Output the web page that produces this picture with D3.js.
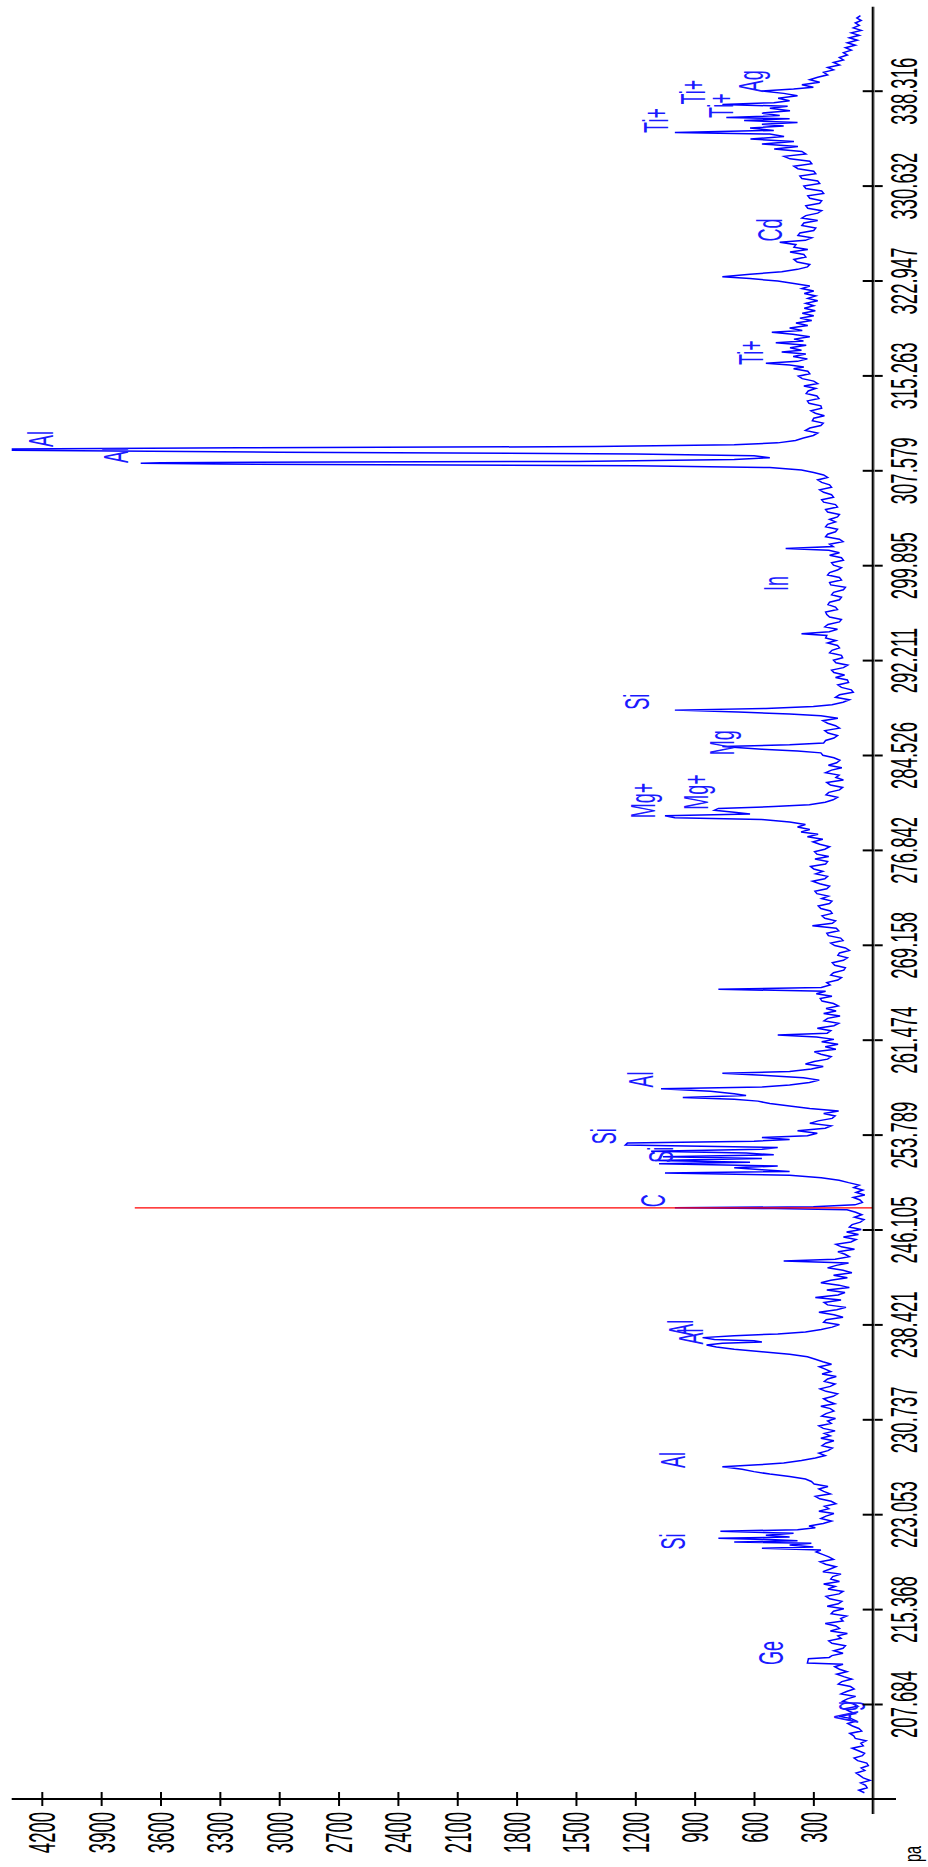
<!DOCTYPE html>
<html>
<head>
<meta charset="utf-8">
<script src="https://cdn.jsdelivr.net/npm/d3@7"></script>
<style>
  body { margin: 0; background: #fff; }
  text { font-family: "Liberation Sans", Arial, sans-serif; }
</style>
</head>
<body>
<div id="chart"></div>
<script>
// tick values of both axes
const wlTicks = [207.684, 215.368, 223.053, 230.737, 238.421, 246.105, 253.789, 261.474, 269.158,
    276.842, 284.526, 292.211, 299.895, 307.579, 315.263, 322.947, 330.632, 338.316];
const intTicks = [300, 600, 900, 1200, 1500, 1800, 2100, 2400, 2700, 3000, 3300, 3600, 3900, 4200];

// spectrum, [wavelength nm, intensity]
const spectrumA = [
    [200.5,42],[200.7,70],[200.9,28],[201.1,36],[201.3,61],[201.5,14],[201.7,48],[201.9,66],[202.1,84],[202.3,40],
    [202.5,58],[202.7,22],[202.9,30],[203.1,76],[203.3,94],[203.5,52],[203.7,41],[203.9,72],[204.1,104],[204.3,48],
    [204.5,60],[204.7,34],[204.9,88],[205.1,96],[205.3,116],[205.5,56],[205.7,70],[205.9,102],[206.1,126],[206.3,82],
    [206.5,108],[206.7,170],[206.9,90],[207.1,118],[207.3,142],[207.5,76],[207.7,100],[207.9,152],[208.1,128],[208.3,86],
    [208.5,160],[208.7,132],[208.9,94],[209.1,112],[209.3,174],[209.5,156],[209.7,106],[209.9,146],[210.1,182],[210.3,130],
    [210.5,168],[210.7,192],[210.9,150],[211.0,330],[211.35,325],[211.45,220],[211.6,206],[211.8,150],[212.0,196],[212.2,150],
    [212.4,138],[212.6,206],[212.8,222],[213.0,160],[213.2,176],[213.4,128],[213.6,214],[213.8,168],[214.0,186],[214.2,240],
    [214.4,150],[214.6,162],[214.8,132],[215.0,210],[215.2,198],[215.4,146],[215.6,230],[215.8,174],[216.0,156],[216.2,218],
    [216.4,236],[216.6,170],[216.8,150],[217.0,226],[217.2,190],[217.4,248],[217.6,168],[217.8,212],[218.0,202],[218.2,160],
    [218.4,252],[218.6,218],[218.8,186],[219.0,238],[219.2,266],[219.4,198],[219.6,222],[219.8,254],[220.0,286],[220.15,262],
    [220.3,560],[220.4,300],[220.55,420],[220.7,310],[220.8,700],[220.9,380],[221.0,520],[221.1,780],[221.2,420],[221.35,540],
    [221.5,400],[221.67,770],[221.8,380],[221.95,290],[222.1,322],[222.3,250],[222.5,208],[222.7,262],[222.9,236],[223.1,196],
    [223.3,272],[223.5,222],[223.7,244],[223.9,186],[224.1,210],[224.3,268],[224.5,290],[224.7,214],[224.9,248],[225.1,272],
    [225.3,226],[225.5,296],[225.7,310],[225.9,340],[226.1,420],[226.3,520],[226.5,600],[226.7,660],[226.9,760],[227.05,580],
    [227.2,450],[227.4,360],[227.6,290],[227.8,240],[228.0,272],[228.2,226],[228.4,204],[228.6,256],[228.8,238],[229.0,196],
    [229.2,262],[229.4,214],[229.6,244],[229.8,190]
];
const spectrumB = [
    [230.0,250],[230.2,272],[230.4,210],[230.6,228],[230.8,188],[231.0,258],[231.2,236],[231.4,196],[231.6,214],[231.8,262],
    [232.0,192],[232.2,226],[232.4,248],[232.6,200],[232.8,178],[233.0,236],[233.2,266],[233.4,214],[233.6,190],[233.8,244],
    [234.0,228],[234.2,184],[234.4,256],[234.6,212],[234.8,240],[235.0,270],[235.2,208],[235.4,252],[235.6,290],[235.8,330],
    [236.0,420],[236.2,560],[236.4,700],[236.6,790],[236.75,840],[236.9,760],[237.0,560],[237.1,600],[237.2,800],[237.35,860],
    [237.5,700],[237.65,480],[237.8,340],[238.0,260],[238.2,205],[238.4,168],[238.6,248],[238.8,235],[239.0,150],[239.2,196],
    [239.4,272],[239.6,182],[239.8,135],[240.0,228],[240.2,246],[240.4,160],[240.6,290],[240.8,175],[241.0,140],[241.2,232],
    [241.4,118],[241.6,170],[241.8,262],[242.0,212],[242.2,128],[242.4,198],[242.6,105],[242.8,150],[243.0,228],[243.2,184],
    [243.4,122],[243.55,450],[243.7,190],[243.9,118],[244.1,140],[244.3,176],[244.5,92],[244.7,158],[244.9,186],[245.1,110],
    [245.3,84],[245.5,148],[245.7,72],[245.9,132],[246.1,58],[246.3,118],[246.5,104],[246.7,62],[246.9,44],[247.1,92],
    [247.3,55],[247.5,86],[247.7,130],[247.8,500],[247.86,1000],[247.95,300],[248.1,90],[248.3,52],[248.5,64],[248.7,98],
    [248.9,40],[249.1,84],[249.3,50],[249.5,96],[249.7,68],[249.9,122],[250.1,170],[250.3,260],[250.5,420],[250.69,1050],
    [250.8,420],[250.95,560],[251.1,700],[251.25,480],[251.43,1080],[251.55,620],[251.7,1100],[251.85,560],[252.0,1060],[252.15,500],
    [252.3,640],[252.45,1120],[252.6,560],[252.75,480],[252.95,1250],[253.1,1240],[253.25,600],[253.4,420],[253.55,560],[253.7,330],
    [253.9,280],[254.1,380],[254.3,240],[254.5,210],[254.7,318],[254.9,276],[255.1,205],[255.3,190],[255.5,248],[255.7,172],
    [255.9,318],[256.1,420],[256.3,520],[256.5,580],[256.65,700],[256.8,960],[256.95,640],[257.1,700],[257.3,820],[257.5,1070],
    [257.65,560],[257.8,420],[258.0,320],[258.2,270],[258.4,350],[258.6,560],[258.75,760],[258.9,420],[259.1,310],[259.3,250],
    [259.5,340],[259.7,296],[259.9,228],[260.1,210],[260.3,262],[260.5,295],[260.7,186],[260.9,240],[261.1,175],[261.3,258],
    [261.5,196],[261.7,284],[261.85,480],[262.0,230],[262.2,212],[262.4,280],[262.6,196],[262.8,172],[263.0,246],[263.2,228],
    [263.4,165],[263.6,248],[263.8,185],[264.0,236],[264.2,174],[264.4,198],[264.6,256],[264.8,265],[265.0,206],[265.2,285],
    [265.4,238],[265.55,780],[265.7,260],[265.9,215],[266.1,232],[266.3,176],[266.5,158],[266.7,212],[266.9,198],[267.1,146],
    [267.3,138],[267.5,192],[267.7,204],[267.9,148],[268.1,128],[268.3,176],[268.5,168],[268.7,118],[268.9,138],[269.1,192],
    [269.3,212],[269.5,150],[269.7,162],[269.9,224],[270.1,232],[270.3,172],[270.5,184],[270.7,305],[270.9,204],[271.1,188],
    [271.3,242],[271.5,256],[271.7,205],[271.9,214],[272.1,262],[272.3,275],[272.5,218],[272.7,206],[272.9,258],[273.1,224],
    [273.3,282],[273.5,292],[273.7,232],[273.9,218],[274.1,268],[274.3,304],[274.5,242],[274.7,228],[274.9,288],[275.1,252],
    [275.3,298],[275.5,314],[275.7,238],[275.9,228],[276.1,292],[276.3,222],[276.5,282],[276.7,294],[276.9,242],[277.1,218],
    [277.3,268],[277.5,302],[277.7,252],[277.9,330],[278.1,276],[278.3,362],[278.5,318],[278.7,380],[278.9,340],[279.1,420],
    [279.3,560],[279.45,1000],[279.6,1050],[279.75,620],[279.9,700],[280.05,800],[280.2,780],[280.35,500],[280.5,320],[280.7,240],
    [280.9,200]
];
const spectrumC = [
    [281.1,178],[281.3,236],[281.5,222],[281.7,168],[281.9,152],[282.1,214],[282.3,232],[282.5,148],[282.7,186],[282.9,170],
    [283.1,238],[283.3,208],[283.5,156],[283.7,224],[283.9,182],[284.1,166],[284.3,196],[284.5,252],[284.7,262],[284.85,380],
    [285.0,560],[285.21,760],[285.35,420],[285.5,248],[285.7,238],[285.9,196],[286.1,178],[286.3,226],[286.5,242],[286.7,168],
    [286.9,188],[287.1,228],[287.3,252],[287.5,176],[287.7,262],[287.85,420],[288.0,680],[288.16,1000],[288.3,540],[288.45,300],
    [288.6,206],[288.8,150],[289.0,118],[289.2,188],[289.4,168],[289.6,98],[289.8,108],[290.0,158],[290.2,176],[290.4,122],
    [290.6,128],[290.8,188],[291.0,142],[291.2,196],[291.4,208],[291.6,148],[291.8,126],[292.0,186],[292.2,198],[292.4,152],
    [292.6,158],[292.8,218],[293.0,206],[293.2,168],[293.4,178],[293.6,228],[293.8,186],[294.0,238],[294.2,232],[294.35,360],
    [294.5,220],[294.7,178],[294.9,242],[295.1,226],[295.3,168],[295.5,158],[295.7,218],[295.9,232],[296.1,238],[296.3,178],
    [296.5,188],[296.7,226],[296.9,218],[297.1,168],[297.3,158],[297.5,208],[297.7,198],[297.9,148],[298.1,138],[298.3,212],
    [298.5,218],[298.7,158],[298.9,168],[299.1,228],[299.3,218],[299.5,178],[299.7,158],[299.9,198],[300.1,208],[300.3,148],
    [300.5,158],[300.7,218],[300.9,168],[301.1,222],[301.25,440],[301.4,200],[301.6,218],[301.8,150],[302.0,168],[302.2,238],
    [302.4,228],[302.6,188],[302.8,178],[303.0,238],[303.2,228],[303.4,188],[303.6,218],[303.8,178],[304.0,168],[304.2,228],
    [304.4,238],[304.6,178],[304.8,188],[305.0,248],[305.2,258],[305.4,198],[305.6,208],[305.8,248],[306.0,268],[306.2,208],
    [306.4,218],[306.6,258],[306.8,278],[307.0,228],[307.2,248],[307.4,298],[307.6,360],[307.8,520],[307.95,1200],[308.08,3300],
    [308.14,3700],[308.2,3600],[308.3,1500],[308.45,700],[308.6,520],[308.75,600],[308.9,1200],[309.05,3000],[309.2,4400],[309.3,4400],
    [309.4,3200],[309.5,1400],[309.65,700],[309.8,480],[310.0,390],[310.2,350],[310.4,300],[310.6,278],[310.8,340],[311.0,318],
    [311.2,262],[311.4,250],[311.6,305],[311.8,298],[312.0,244],[312.2,290],[312.4,312],[312.6,258],[312.8,262],[313.0,322],
    [313.2,330],[313.4,272],[313.6,282],[313.8,336],[314.0,326],[314.2,288],[314.4,348],[314.6,278],[314.8,298],[315.0,356],
    [315.2,376],[315.4,318],[315.6,328],[315.8,400],[315.95,348],[316.1,420],[316.25,540],[316.4,380],[316.6,330],[316.8,402],
    [317.0,338],[317.15,460],[317.3,360],[317.5,418],[317.7,336],[317.9,490],[318.05,350],[318.2,398],[318.4,318],[318.6,404],
    [318.75,510],[318.9,356],[319.1,420],[319.3,328],[319.5,388],[319.7,308],[319.9,368],[320.1,298],[320.3,356],[320.5,290],
    [320.7,346],[320.9,298],[321.1,338],[321.3,278],[321.5,328],[321.7,288],[321.9,346],[322.1,298],[322.3,358],[322.5,318],
    [322.7,398],[322.9,480],[323.1,620],[323.26,760],[323.45,620],[323.65,460],[323.85,380],[324.05,330],[324.25,318],[324.45,382],
    [324.65,398],[324.85,338],[325.05,348],[325.25,418],[325.45,328],[325.65,398],[325.85,388],[326.05,470],[326.2,340],[326.4,308],
    [326.6,378],[326.8,368],[327.0,298],[327.2,288],[327.4,358],[327.6,348],[327.8,278],[328.0,358],[328.2,338],[328.4,278],
    [328.6,258],[328.8,328],[329.0,338],[329.2,268],[329.4,258],[329.6,318],[329.8,328],[330.0,248],[330.2,258],[330.4,338],
    [330.6,348],[330.8,268],[331.0,278],[331.2,358],[331.4,368],[331.6,288],[331.8,298],[332.0,378],[332.2,398],[332.4,308],
    [332.6,318],[332.8,418],[333.0,448],[333.2,338],[333.4,358],[333.6,498],[333.8,378],[334.0,560],[334.2,398],[334.4,618],
    [334.6,448],[334.8,520],[334.94,1000],[335.1,500],[335.3,620],[335.45,450],[335.6,560],[335.75,380],[335.9,650],[336.05,420],
    [336.15,740],[336.3,470],[336.5,560],[336.7,418],[336.9,520],[337.05,430],[337.2,760],[337.35,500],[337.5,420],[337.7,478],
    [337.9,380],[338.1,450],[338.3,560],[338.45,400],[338.6,300],[338.8,358],[339.0,268],[339.2,318],[339.4,278],[339.6,228],
    [339.8,248],[340.0,198],[340.2,228],[340.4,168],[340.6,198],[340.8,148],[341.0,168],[341.2,128],[341.4,148],[341.6,108],
    [341.8,138],[342.0,88],[342.2,128],[342.4,78],[342.6,118],[342.8,68],[343.0,108],[343.2,58],[343.4,98],[343.6,68],
    [343.8,88],[344.0,58],[344.2,80],[344.4,62]
];

// peak labels: text, wavelength at the foot of the text, intensity at the text baseline
const labelText = ["Ag", "Ge", "Si", "Al", "Al", "Al", "C", "Si", "Si", "Al", "Mg+", "Mg+", "Mg", "Si", "In",
    "Al", "Al", "Ti+", "Cd", "Ti+", "Ti+", "Ti+", "Ag"];
const labelWl = [206.15, 210.84, 220.2, 226.8, 237.5, 236.8, 247.9, 251.5, 253.0, 257.6, 279.4, 280.1, 284.5, 288.2, 297.8,
    308.17, 309.46, 316.1, 326.1, 334.9, 336.1, 337.2, 338.2];
const labelInt = [74, 454, 948, 948, 910, 860, 1050, 1010, 1300, 1110, 1100, 830, 700, 1130, 430,
    3765, 4143, 555, 459, 1034, 706, 848, 555];

const cursorWl = 247.86;
const cursorTop = 3730;

const width = 928;
const height = 1867;

const svg = d3.select('#chart')
    .append('svg')
    .attr('width', width)
    .attr('height', height)
    .style('background', '#fff');

// wavelength runs bottom -> top, intensity right -> left (chart turned on its side)
const wl = d3.scaleLinear()
    .domain([207.684, 338.316])
    .range([1704, 90.7]);
const inten = d3.scaleLinear()
    .domain([0, 4200])
    .range([872.7, 41.8]);

const axisX = inten(0);
const axisY = 1799;

svg.append('clipPath')
    .attr('id', 'plot-clip')
    .append('rect')
    .attr('x', 11.7)
    .attr('y', 6)
    .attr('width', axisX - 11.7)
    .attr('height', axisY - 6);

const line = d3.line()
    .x(d => inten(d[1]))
    .y(d => wl(d[0]));

const spectrum = spectrumA.concat(spectrumB, spectrumC);

svg.append('path')
    .datum(spectrum)
    .attr('d', line)
    .attr('clip-path', 'url(#plot-clip)')
    .attr('fill', 'none')
    .attr('stroke', '#0000ff')
    .attr('stroke-width', 1.5);

// cursor line
svg.append('line')
    .attr('x1', inten(0))
    .attr('x2', inten(cursorTop))
    .attr('y1', wl(cursorWl))
    .attr('y2', wl(cursorWl))
    .attr('stroke', '#ff0000')
    .attr('stroke-width', 1.4);

// peak labels
svg.append('g')
    .selectAll('text')
    .data(labelText)
    .join('text')
    .attr('transform', (d, i) => `translate(${inten(labelInt[i])},${wl(labelWl[i])}) rotate(-90) scale(0.5,1)`)
    .attr('text-anchor', 'start')
    .attr('font-size', 36)
    .attr('fill', '#1a1aff')
    .text(d => d);

// wavelength axis (right)
const wlAxis = svg.append('g')
    .attr('transform', `translate(${axisX},0)`)
    .call(d3.axisRight(wl).tickValues(wlTicks).tickSize(10).tickFormat(d => d.toFixed(3)));
wlAxis.select('.domain').remove();
wlAxis.selectAll('.tick line')
    .attr('x1', -10)
    .attr('x2', 10)
    .attr('stroke', '#000')
    .attr('stroke-width', 2);
wlAxis.selectAll('.tick text')
    .attr('x', null)
    .attr('dy', null)
    .attr('font-size', 37)
    .attr('text-anchor', 'middle')
    .attr('fill', '#000')
    .attr('transform', 'translate(44,0) rotate(-90) scale(0.5,1)');

// intensity axis (bottom)
const intAxis = svg.append('g')
    .attr('transform', `translate(0,${axisY})`)
    .call(d3.axisBottom(inten).tickValues(intTicks).tickSize(7).tickFormat(d3.format('d')));
intAxis.select('.domain').remove();
intAxis.selectAll('.tick line')
    .attr('y1', -7)
    .attr('y2', 7)
    .attr('stroke', '#000')
    .attr('stroke-width', 2);
intAxis.selectAll('.tick text')
    .attr('y', null)
    .attr('dy', null)
    .attr('font-size', 37)
    .attr('text-anchor', 'end')
    .attr('fill', '#000')
    .attr('transform', 'translate(13,13) rotate(-90) scale(0.5,1)');

// axis lines
svg.append('line')
    .attr('x1', axisX + 1.5).attr('x2', axisX + 1.5)
    .attr('y1', 6.7).attr('y2', 1814)
    .attr('stroke', '#999').attr('stroke-width', 1.2);
svg.append('line')
    .attr('x1', axisX).attr('x2', axisX)
    .attr('y1', 6.7).attr('y2', 1814)
    .attr('stroke', '#000').attr('stroke-width', 2);
svg.append('line')
    .attr('x1', 11.7).attr('x2', 896)
    .attr('y1', axisY).attr('y2', axisY)
    .attr('stroke', '#000').attr('stroke-width', 2);

// axis caption, mostly outside the picture like in the original
svg.append('text')
    .attr('transform', `translate(921,1862) rotate(-90) scale(0.6,1)`)
    .attr('font-size', 24)
    .attr('fill', '#000')
    .text('pa');
</script>
</body>
</html>
